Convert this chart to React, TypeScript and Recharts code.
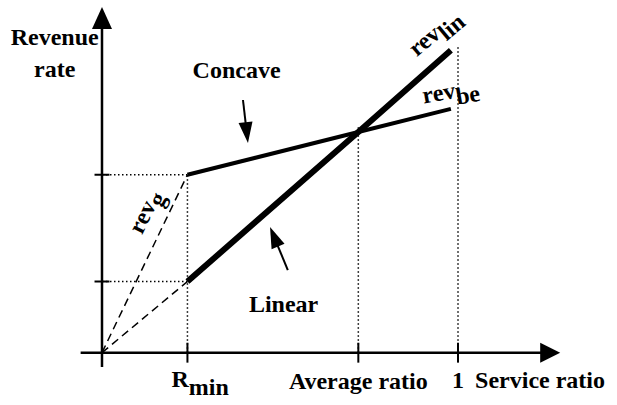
import { ComposedChart, Line, XAxis, YAxis, ReferenceLine, ReferenceDot } from 'recharts'

// service ratio marks on the horizontal axis
const rMin = 0.24
const avgRatio = 0.72
const fullRatio = 1

const serviceTicks = [rMin, avgRatio, fullRatio]
const serviceTickLabels = [
  ['R', 'min'],
  ['Average ratio', ''],
  ['1', ''],
]
// revenue rate at R_min for the linear and the concave curve
const revenueTicks = [0.2, 0.5]
// top of the dotted guide above each service tick
const guideTops = [0.5, 0.635, 0.86]

const linearData = [
  { x: 0.24, y: 0.2 },
  { x: 0.72, y: 0.62 },
  { x: 0.98, y: 0.85 },
]
const concaveData = [
  { x: 0.24, y: 0.5 },
  { x: 0.72, y: 0.62 },
  { x: 0.98, y: 0.685 },
]
const revGData = [
  { x: 0, y: 0 },
  { x: 0.24, y: 0.5 },
]
const linearExtData = [
  { x: 0, y: 0 },
  { x: 0.24, y: 0.2 },
]

const axisTitles = ['Revenue', 'rate', 'Service ratio']
const curveNames = ['Concave', 'Linear']
const revLabels = [
  ['rev', 'g'],
  ['rev', 'lin'],
  ['rev', 'be'],
]

// layout (not data)
const W = 617
const H = 405
const X_DOMAIN: [number, number] = [-0.2865, 1.4466]
const Y_DOMAIN: [number, number] = [-0.147, 0.991]
const FONT = "'Liberation Serif', 'Times New Roman', 'DejaVu Serif', serif"

function arrowShape(headLen: number, headHalf: number) {
  return (p: any) => {
    const { x1, y1, x2, y2, stroke, strokeWidth } = p
    const dx = x2 - x1
    const dy = y2 - y1
    const len = Math.hypot(dx, dy)
    const ux = dx / len
    const uy = dy / len
    const bx = x2 - ux * headLen
    const by = y2 - uy * headLen
    const pts = `${x2},${y2} ${bx - uy * headHalf},${by + ux * headHalf} ${bx + uy * headHalf},${by - ux * headHalf}`
    return (
      <g>
        <line x1={x1} y1={y1} x2={bx + ux} y2={by + uy} stroke={stroke} strokeWidth={strokeWidth} />
        <polygon points={pts} fill={stroke} />
      </g>
    )
  }
}

function textShape(main: string, sub: string, anchor: string, angle = 0, dx = 0, subDy = 7) {
  return (p: any) => (
    <text
      x={p.cx}
      y={p.cy}
      textAnchor={anchor}
      transform={angle ? `rotate(${angle} ${p.cx} ${p.cy})` : undefined}
      fontFamily={FONT}
      fontWeight="bold"
      fontSize={24}
      fill="#000"
    >
      <tspan dx={dx}>{main}</tspan>
      {sub ? <tspan dy={subDy}>{sub}</tspan> : null}
    </text>
  )
}

export default function App() {
  return (
    <div style={{ position: 'absolute', left: 0, top: 0, background: '#fff', fontFamily: FONT }}>
      <ComposedChart width={W} height={H} margin={{ top: 0, right: 0, bottom: 0, left: 0 }}>
        <XAxis type="number" dataKey="x" domain={X_DOMAIN} allowDataOverflow hide />
        <YAxis type="number" dataKey="y" domain={Y_DOMAIN} allowDataOverflow hide />

        {/* dotted guides */}
        {serviceTicks.map((t, i) => (
          <ReferenceLine
            key={`gv${i}`}
            segment={[{ x: t, y: 0 }, { x: t, y: guideTops[i] }]}
            stroke="#000"
            strokeWidth={1.5}
            strokeDasharray="1.5 2.5"
          />
        ))}
        {revenueTicks.map((v, i) => (
          <ReferenceLine
            key={`gh${i}`}
            segment={[{ x: 0, y: v }, { x: rMin, y: v }]}
            stroke="#000"
            strokeWidth={1.5}
            strokeDasharray="1.5 2.5"
          />
        ))}

        {/* axes with arrow heads */}
        <ReferenceLine
          segment={[{ x: -0.06, y: 0 }, { x: 1.287, y: 0 }]}
          stroke="#000"
          strokeWidth={2.5}
          shape={arrowShape(20, 10)}
        />
        <ReferenceLine
          segment={[{ x: 0, y: -0.04 }, { x: 0, y: 0.971 }]}
          stroke="#000"
          strokeWidth={2.5}
          shape={arrowShape(22, 10)}
        />
        {serviceTicks.map((t, i) => (
          <ReferenceLine
            key={`tx${i}`}
            segment={[{ x: t, y: -0.028 }, { x: t, y: 0.028 }]}
            stroke="#000"
            strokeWidth={2}
          />
        ))}
        {revenueTicks.map((v, i) => (
          <ReferenceLine
            key={`ty${i}`}
            segment={[{ x: -0.021, y: v }, { x: 0.021, y: v }]}
            stroke="#000"
            strokeWidth={2}
          />
        ))}

        {/* series */}
        <Line data={revGData} dataKey="y" type="linear" stroke="#000" strokeWidth={1.5} strokeDasharray="8 5" dot={false} activeDot={false} isAnimationActive={false} />
        <Line data={linearExtData} dataKey="y" type="linear" stroke="#000" strokeWidth={1.5} strokeDasharray="8 5" dot={false} activeDot={false} isAnimationActive={false} />
        <Line data={concaveData} dataKey="y" type="linear" stroke="#000" strokeWidth={4} dot={false} activeDot={false} isAnimationActive={false} />
        <Line data={linearData} dataKey="y" type="linear" stroke="#000" strokeWidth={6} dot={false} activeDot={false} isAnimationActive={false} />

        {/* annotation arrows */}
        <ReferenceLine
          segment={[{ x: 0.396, y: 0.71 }, { x: 0.41, y: 0.589 }]}
          stroke="#000"
          strokeWidth={2}
          shape={arrowShape(21, 7)}
        />
        <ReferenceLine
          segment={[{ x: 0.522, y: 0.232 }, { x: 0.472, y: 0.353 }]}
          stroke="#000"
          strokeWidth={2}
          shape={arrowShape(21, 7)}
        />

        {/* tick labels */}
        <ReferenceDot x={serviceTicks[0]} y={-0.097} r={0} shape={textShape(serviceTickLabels[0][0], serviceTickLabels[0][1], 'start', 0, -16, 8)} />
        <ReferenceDot x={serviceTicks[1]} y={-0.103} r={0} shape={textShape(serviceTickLabels[1][0], '', 'middle')} />
        <ReferenceDot x={serviceTicks[2]} y={-0.1} r={0} shape={textShape(serviceTickLabels[2][0], '', 'middle')} />

        {/* axis titles */}
        <ReferenceDot x={-0.133} y={0.864} r={0} shape={textShape(axisTitles[0], '', 'middle')} />
        <ReferenceDot x={-0.133} y={0.775} r={0} shape={textShape(axisTitles[1], '', 'middle')} />
        <ReferenceDot x={1.048} y={-0.099} r={0} shape={textShape(axisTitles[2], '', 'start')} />

        {/* curve names */}
        <ReferenceDot x={0.378} y={0.772} r={0} shape={textShape(curveNames[0], '', 'middle')} />
        <ReferenceDot x={0.51} y={0.115} r={0} shape={textShape(curveNames[1], '', 'middle')} />

        {/* rev labels */}
        <ReferenceDot x={0.14} y={0.387} r={0} shape={textShape(revLabels[0][0], revLabels[0][1], 'middle', -64, 0, 6)} />
        <ReferenceDot x={0.884} y={0.83} r={0} shape={textShape(revLabels[1][0], revLabels[1][1], 'start', -40, 0, 7)} />
        <ReferenceDot x={0.904} y={0.7} r={0} shape={textShape(revLabels[2][0], revLabels[2][1], 'start', -10, 0, 7)} />
      </ComposedChart>
    </div>
  )
}
